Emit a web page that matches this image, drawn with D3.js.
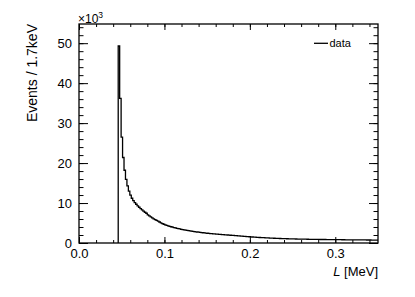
<!DOCTYPE html>
<meta charset="utf-8">
<html>
<head>
<title>L spectrum</title>
<style>
body { margin: 0; background: #fff; }
svg { display: block; font-family: "Liberation Sans", Arial, Helvetica, sans-serif; }
.axis text { font-size: 13px; fill: #000; }
.axis line { stroke: #000; stroke-width: 1; }
.axis path.domain { display: none; }
</style>
</head>
<body>
<svg class="chart" width="415" height="297"></svg>

<script src="https://cdn.jsdelivr.net/npm/d3@7"></script>
<script>

// histogram: first bin low edge and width in MeV, counts in units of 10^3
const binLow = 0.0459
const binWidth = 0.0017
const counts = [
  49.3, 36.2, 26.5, 21.4, 18.2, 15.9, 14.3, 13.0, 12.0, 11.2,
  10.6, 10.1, 9.7, 9.3, 8.95, 8.6, 8.3, 8.0, 7.7, 7.45,
  7.05, 6.8, 6.55, 6.3, 6.05, 5.85, 5.65, 5.45, 5.25, 5.05,
  4.84, 4.69, 4.55, 4.42, 4.30, 4.18, 4.06, 3.96, 3.86, 3.76,
  3.67, 3.58, 3.51, 3.43, 3.35, 3.28, 3.21, 3.15, 3.08, 3.02,
  2.96, 2.91, 2.85, 2.80, 2.75, 2.70, 2.65, 2.61, 2.56, 2.52,
  2.48, 2.44, 2.40, 2.37, 2.33, 2.30, 2.26, 2.23, 2.20, 2.17,
  2.14, 2.11, 2.08, 2.05, 2.02, 2.00, 1.97, 1.94, 1.92, 1.89,
  1.86, 1.83, 1.80, 1.77, 1.74, 1.71, 1.68, 1.65, 1.62, 1.59,
  1.56, 1.53, 1.50, 1.48, 1.45, 1.43, 1.40, 1.38, 1.36, 1.34,
  1.32, 1.30, 1.28, 1.26, 1.24, 1.22, 1.20, 1.19, 1.17, 1.16,
  1.14, 1.13, 1.11, 1.10, 1.09, 1.07, 1.06, 1.05, 1.04, 1.03,
  1.02, 1.01, 1.00, 0.99, 0.98, 0.98, 0.97, 0.96, 0.95, 0.95,
  0.94, 0.93, 0.93, 0.92, 0.91, 0.91, 0.90, 0.90, 0.89, 0.88,
  0.88, 0.87, 0.87, 0.86, 0.86, 0.85, 0.85, 0.84, 0.84, 0.83,
  0.83, 0.83, 0.82, 0.82, 0.81, 0.81, 0.80, 0.80, 0.80, 0.79,
  0.79, 0.79, 0.78, 0.78, 0.78, 0.77, 0.77, 0.77, 0.76, 0.76,
  0.76, 0.75, 0.75, 0.75, 0.74, 0.74, 0.74, 0.73, 0.73
]

const xDomain = [0, 0.35]
const yDomain = [0, 54.8]
const xMajor = [0, 0.1, 0.2, 0.3]
const yMajor = [0, 10, 20, 30, 40, 50]
const xTitle = "L"
const xUnit = " [MeV]"
const yTitle = "Events / 1.7keV"
const legendLabel = "data"

const fL = 79, fR = 378, fT = 24, fB = 243

var svg = d3.select("svg.chart")

var x = d3.scaleLinear().domain(xDomain).range([fL, fR])
var y = d3.scaleLinear().domain(yDomain).range([fB, fT])

var xMinor = d3.range(0, 0.35 + 1e-9, 0.02)
var yMinor = d3.range(0, 55, 2)

// histogram outline
svg.append("clipPath").attr("id", "frame")
  .append("rect")
  .attr("x", fL).attr("y", fT)
  .attr("width", fR - fL).attr("height", fB - fT)

var path = d3.path()
path.moveTo(x(binLow), y(0))
counts.forEach((c, i) => {
  var lo = binLow + i * binWidth
  path.lineTo(x(lo), y(c))
  path.lineTo(x(lo + binWidth), y(c))
})

svg.append("path")
  .attr("d", path.toString())
  .attr("clip-path", "url(#frame)")
  .attr("fill", "none")
  .attr("stroke", "#000")
  .attr("stroke-width", 1.3)

// axes, ticks pointing inward
function addAxis(axis, tx, ty) {
  return svg.append("g")
    .attr("class", "axis")
    .attr("transform", "translate(" + tx + "," + ty + ")")
    .call(axis)
}

addAxis(d3.axisBottom(x).tickValues(xMinor).tickSize(-3).tickFormat(""), 0, fB)
addAxis(d3.axisTop(x).tickValues(xMinor).tickSize(-3).tickFormat(""), 0, fT)
addAxis(d3.axisBottom(x).tickValues(xMajor).tickSize(-6).tickPadding(6).tickFormat(d3.format(".1f")), 0, fB)
addAxis(d3.axisTop(x).tickValues(xMajor).tickSize(-6).tickFormat(""), 0, fT)

addAxis(d3.axisLeft(y).tickValues(yMinor).tickSize(-4.5).tickFormat(""), fL, 0)
addAxis(d3.axisRight(y).tickValues(yMinor).tickSize(-4.5).tickFormat(""), fR, 0)
addAxis(d3.axisLeft(y).tickValues(yMajor).tickSize(-9).tickPadding(7).tickFormat(d3.format("d")), fL, 0)
addAxis(d3.axisRight(y).tickValues(yMajor).tickSize(-9).tickFormat(""), fR, 0)

svg.selectAll(".axis").attr("font-family", null).attr("font-size", null)

// frame
svg.append("rect")
  .attr("x", fL).attr("y", fT)
  .attr("width", fR - fL).attr("height", fB - fT)
  .attr("fill", "none")
  .attr("stroke", "#000")
  .attr("stroke-width", 1.3)

// exponent
var expo = svg.append("text")
  .attr("x", fL - 1).attr("y", 22.5)
  .attr("font-size", 12)
expo.append("tspan").text("\u00d710")
expo.append("tspan").attr("font-size", 8.5).attr("dy", -5).text("3")

// axis titles
svg.append("text")
  .attr("transform", "translate(37," + fT + ") rotate(-90)")
  .attr("text-anchor", "end")
  .attr("font-size", 14)
  .text(yTitle)

var xt = svg.append("text")
  .attr("x", fR).attr("y", 276)
  .attr("text-anchor", "end")
  .attr("font-size", 13)
xt.append("tspan").attr("font-style", "italic").text(xTitle)
xt.append("tspan").text(xUnit)

// legend
svg.append("line")
  .attr("x1", 314).attr("x2", 328)
  .attr("y1", 43.3).attr("y2", 43.3)
  .attr("stroke", "#000")
  .attr("stroke-width", 1.3)
svg.append("text")
  .attr("x", 329.5).attr("y", 47)
  .attr("font-size", 11)
  .text(legendLabel)
</script>
</body>
</html>
